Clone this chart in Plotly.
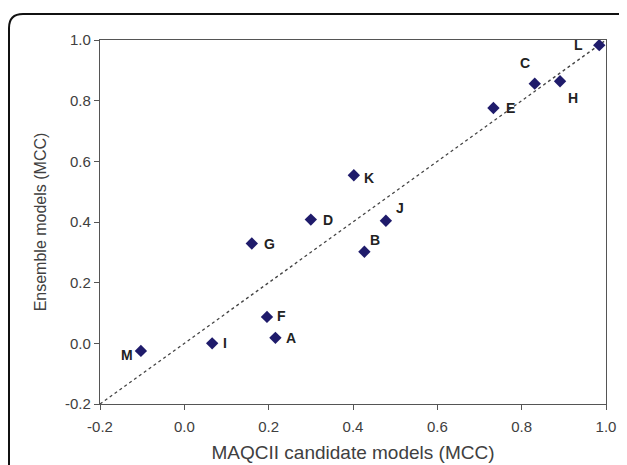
import plotly.graph_objects as go

labels = ["A", "B", "C", "D", "E", "F", "G", "H", "I", "J", "K", "L", "M"]
candidate_mcc = [0.216, 0.427, 0.831, 0.300, 0.733, 0.196, 0.160, 0.891, 0.066, 0.478, 0.402, 0.984, -0.103]
ensemble_mcc = [0.018, 0.302, 0.856, 0.408, 0.776, 0.087, 0.329, 0.864, 0.000, 0.404, 0.554, 0.983, -0.025]
diag = [-0.2, 1.0]
ticks = [-0.2, 0.0, 0.2, 0.4, 0.6, 0.8, 1.0]
tick_text = ["-0.2", "0.0", "0.2", "0.4", "0.6", "0.8", "1.0"]

# label offsets in pixels (style only)
label_dx = [16, 11, -10, 17, 17, 15, 18, 13, 13, 14, 15, -21, -14]
label_dy = [0, 12, 21, 0, 0, 1, 0, -17, 0, 13, -3, 0, -4]

# page has an 8px body margin; the figure is sized to fill the rest of the window
W, H = 619, 457
L, R, T, B = 92, 21, 32, 61
pw, ph = W - L - R, H - T - B
FONT = "Arial, Liberation Sans, sans-serif"

fig = go.Figure()
fig.add_trace(go.Scatter(x=diag, y=diag, mode="lines",
                         line=dict(color="#444444", width=1.3, dash="3px,3px"),
                         hoverinfo="skip", showlegend=False))
fig.add_trace(go.Scatter(x=candidate_mcc, y=ensemble_mcc, mode="markers",
                         marker=dict(symbol="diamond", size=9.5, color="#1f1b6b"),
                         showlegend=False, cliponaxis=False))

for lab, xv, yv, dx, dy in zip(labels, candidate_mcc, ensemble_mcc, label_dx, label_dy):
    fig.add_annotation(x=xv, y=yv, text=lab, showarrow=False, xshift=dx, yshift=dy,
                       font=dict(family=FONT, size=14, color="#222222", weight="bold"))

axis_common = dict(range=[-0.2, 1.0], tickvals=ticks, ticktext=tick_text, automargin=False,
                   showgrid=False, zeroline=False, showline=True, linecolor="#555555", linewidth=1.2,
                   mirror=True, ticks="outside", ticklen=5, tickcolor="#555555",
                   tickfont=dict(family=FONT, size=15, color="#404040"))

fig.update_xaxes(**axis_common, ticklabelstandoff=4,
                 title=dict(text="MAQCII candidate models (MCC)", standoff=11,
                            font=dict(family=FONT, size=19, color="#404040")))
fig.update_yaxes(**axis_common,
                 title=dict(text="Ensemble models (MCC)", standoff=14,
                            font=dict(family=FONT, size=16, color="#404040")))

# rounded outer frame (page x=9, y=14 -> figure x=1, y=6)
x0 = (1 - L) / pw
y0 = 1 + (T - 6) / ph
x1 = (626 - L) / pw
y1 = -(B + 20) / ph
rx, ry = 14 / pw, 14 / ph
path = (f"M {x0},{y1} L {x0},{y0 - ry} Q {x0},{y0} {x0 + rx},{y0} "
        f"L {x1 - rx},{y0} Q {x1},{y0} {x1},{y0 - ry} L {x1},{y1}")
fig.add_shape(type="path", path=path, xref="paper", yref="paper",
              line=dict(color="#111111", width=2))

fig.update_layout(width=W, height=H, margin=dict(l=L, r=R, t=T, b=B),
                  plot_bgcolor="white", paper_bgcolor="white")

fig.write_html("out.html")
